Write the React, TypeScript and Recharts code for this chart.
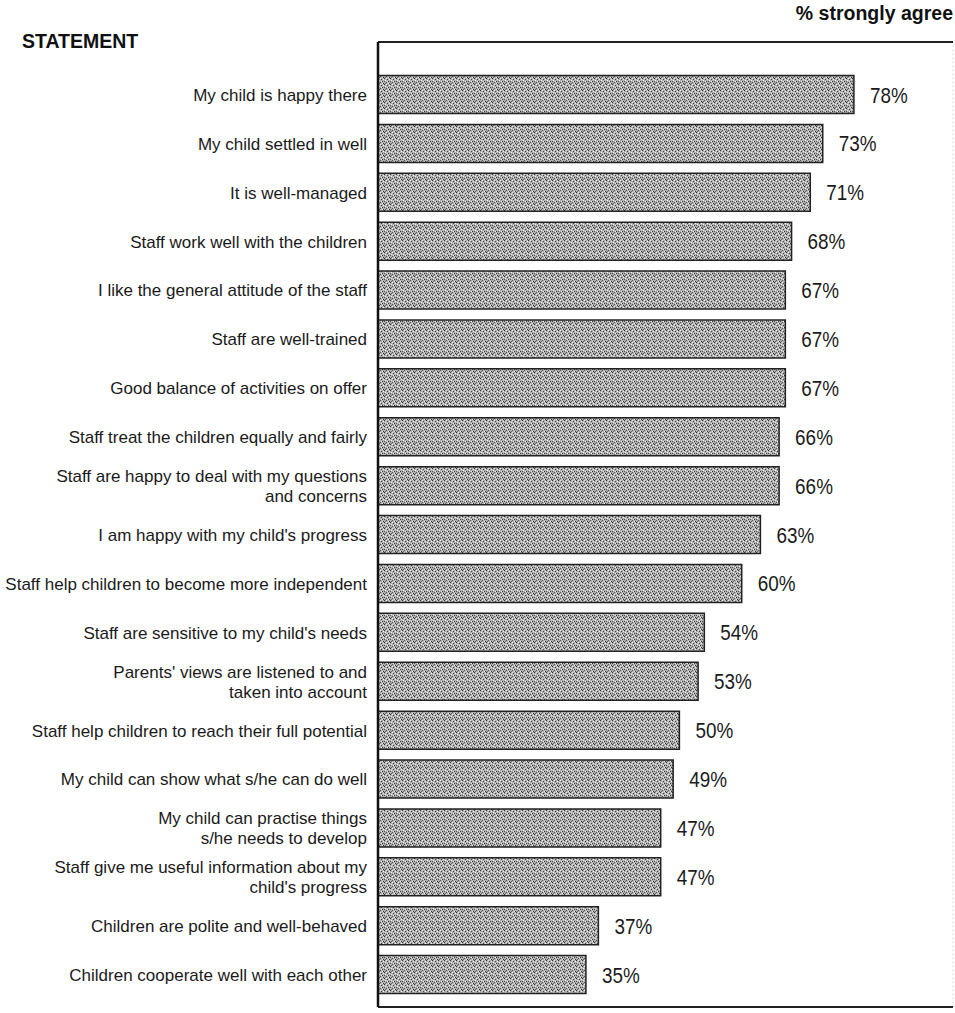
import React from "react";
import { BarChart, Bar, XAxis, YAxis, LabelList, ReferenceLine } from "recharts";

const statements: string[] = [
  "My child is happy there",
  "My child settled in well",
  "It is well-managed",
  "Staff work well with the children",
  "I like the general attitude of the staff",
  "Staff are well-trained",
  "Good balance of activities on offer",
  "Staff treat the children equally and fairly",
  "Staff are happy to deal with my questions\nand concerns",
  "I am happy with my child's progress",
  "Staff help children to become more independent",
  "Staff are sensitive to my child's needs",
  "Parents' views are listened to and\ntaken into account",
  "Staff help children to reach their full potential",
  "My child can show what s/he can do well",
  "My child can practise things\ns/he needs to develop",
  "Staff give me useful information about my\nchild's progress",
  "Children are polite and well-behaved",
  "Children cooperate well with each other",
];

const stronglyAgree: number[] = [78, 73, 71, 68, 67, 67, 67, 66, 66, 63, 60, 54, 53, 50, 49, 47, 47, 37, 35];

const titleLeft = "STATEMENT";
const titleRight = "% strongly agree";

const data = statements.map((s, i) => ({ name: s, value: stronglyAgree[i] }));

const X_DOMAIN: [number, number] = [1.64, 93.9];
const LABEL_FONT = "'Liberation Sans', Arial, Helvetica, sans-serif";

const CategoryTick = (props: any) => {
  const { x, y, payload } = props;
  const lines = String(payload.value).split("\n");
  const lh = 20;
  const fs = 17;
  return (
    <text x={x} y={y} textAnchor="end" fontSize={fs} fontFamily={LABEL_FONT} fill="#1a1a1a">
      {lines.map((ln, i) => (
        <tspan key={i} x={x} y={y + (i - (lines.length - 1) / 2) * lh + fs * 0.35}>
          {ln}
        </tspan>
      ))}
    </text>
  );
};

const ValueLabel = (props: any) => {
  const { x, y, width, height, value } = props;
  const tx = x + width + 16;
  const ty = y + height / 2 + 8;
  return (
    <text
      transform={`translate(${tx},${ty}) scale(0.84,1)`}
      x={0}
      y={0}
      fontSize={22.5}
      fontFamily={LABEL_FONT}
      fill="#1a1a1a"
    >
      {`${value}%`}
    </text>
  );
};

export default function App() {
  return (
    <div style={{ position: "absolute", left: 0, top: 0, width: 955, height: 1013, background: "#fff" }}>
      <BarChart
        width={955}
        height={1013}
        data={data}
        layout="vertical"
        margin={{ top: 41, right: 2, bottom: 5, left: 0 }}
      >
        <defs>
          <pattern id="dither" width="6" height="6" patternUnits="userSpaceOnUse">
            <rect width="6" height="6" fill="#b0b0b0" />
            <rect x="0" y="0" width="1" height="1" fill="#333" />
            <rect x="3" y="1" width="1" height="1" fill="#444" />
            <rect x="1" y="2" width="1" height="1" fill="#f2f2f2" />
            <rect x="4" y="3" width="1" height="1" fill="#333" />
            <rect x="2" y="4" width="1" height="1" fill="#555" />
            <rect x="5" y="5" width="1" height="1" fill="#333" />
            <rect x="5" y="1" width="1" height="1" fill="#eee" />
            <rect x="1" y="5" width="1" height="1" fill="#666" />
            <rect x="3" y="3" width="1" height="1" fill="#f0f0f0" />
            <rect x="0" y="3" width="1" height="1" fill="#555" />
            <rect x="2" y="0" width="1" height="1" fill="#e8e8e8" />
            <rect x="4" y="5" width="1" height="1" fill="#e8e8e8" />
          </pattern>
        </defs>
        <XAxis
          xAxisId="bottom"
          type="number"
          domain={X_DOMAIN}
          allowDataOverflow
          orientation="bottom"
          height={1}
          tick={false}
          tickLine={false}
          axisLine={{ stroke: "#222", strokeWidth: 2 }}
        />
        <XAxis
          xAxisId="top"
          type="number"
          domain={X_DOMAIN}
          allowDataOverflow
          orientation="top"
          height={1}
          tick={false}
          tickLine={false}
          axisLine={{ stroke: "#222", strokeWidth: 2 }}
        />
        <YAxis
          type="category"
          dataKey="name"
          width={378}
          tickLine={false}
          tickSize={0}
          tickMargin={11}
          interval={0}
          padding={{ top: 28.5, bottom: 7.5 }}
          axisLine={{ stroke: "#111", strokeWidth: 2.5 }}
          tick={<CategoryTick />}
        />
        <ReferenceLine xAxisId="bottom" x={X_DOMAIN[1]} stroke="#c4c4c4" strokeWidth={1} strokeDasharray="1 3" />
        <Bar
          xAxisId="bottom"
          dataKey="value"
          barSize={38}
          fill="url(#dither)"
          stroke="#222"
          strokeWidth={1.5}
          isAnimationActive={false}
        >
          <LabelList dataKey="value" content={<ValueLabel />} />
        </Bar>
      </BarChart>
      <svg width={955} height={60} style={{ position: "absolute", left: 0, top: 0, pointerEvents: "none" }}>
        <text x={22} y={48} fontSize={19.5} fontWeight="bold" fontFamily={LABEL_FONT} fill="#111">
          {titleLeft}
        </text>
        <text x={953} y={20} textAnchor="end" fontSize={19.5} fontWeight="bold" fontFamily={LABEL_FONT} fill="#111">
          {titleRight}
        </text>
      </svg>
    </div>
  );
}
